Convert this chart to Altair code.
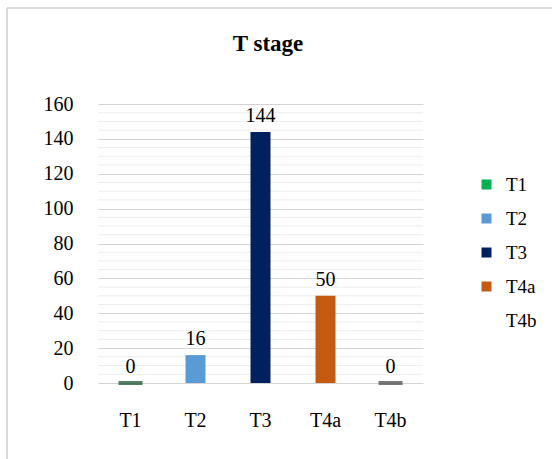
import altair as alt
import pandas as pd

stages = ["T1", "T2", "T3", "T4a", "T4b"]
counts = [0, 16, 144, 50, 0]
colors = ["#00b050", "#5b9bd5", "#002060", "#c55a11", "#ffffff"]
base_colors = ["#0b4a23", "#3d7fbf", "#001540", "#8a3c0a", "#404040"]
y_ticks = [0, 20, 40, 60, 80, 100, 120, 140, 160]
minor_grid = [5, 10, 15, 25, 30, 35, 45, 50, 55, 65, 70, 75, 85, 90, 95,
              105, 110, 115, 125, 130, 135, 145, 150, 155]
title_text = ["T stage"]

df = pd.DataFrame({"stage": stages, "count": counts, "base": base_colors})
grid_df = pd.DataFrame({"count": minor_grid})

FONT = "Liberation Serif"

x = alt.X("stage:N", sort=stages, scale=alt.Scale(paddingInner=0.69, paddingOuter=0.345),
          axis=alt.Axis(title=None, labelAngle=0, domain=False, ticks=False, labelPadding=27,
                        labelFontSize=20, labelFont=FONT, labelColor="#000000", grid=False))
y_axis = alt.Axis(title=None, values=y_ticks, domain=False, ticks=False, labelOverlap=False,
                  labelPadding=25, labelFontSize=20, labelFont=FONT, labelColor="#000000",
                  gridColor="#d4d4d4", gridWidth=1)
y = alt.Y("count:Q", scale=alt.Scale(domain=[0, 160]), axis=y_axis)

minor = alt.Chart(grid_df).mark_rule(color="#ededed", strokeWidth=1).encode(y=y)

bars = alt.Chart(df).mark_bar(size=20, opacity=1).encode(
    x=x, y=y,
    color=alt.Color("stage:N", sort=stages,
                    scale=alt.Scale(domain=stages, range=colors),
                    legend=alt.Legend(title=None, orient="none", legendX=379, legendY=71,
                                      symbolType="square", symbolSize=100, symbolStrokeWidth=0,
                                      symbolOpacity=1,
                                      labelFont=FONT, labelFontSize=19, labelColor="#000000",
                                      rowPadding=14, labelOffset=10)),
)

floor = alt.Chart(df).mark_tick(thickness=4, size=24).encode(
    x=x, y=y,
    color=alt.Color("base:N", scale=None),
).transform_filter("datum.count == 0")

labels = alt.Chart(df).mark_text(dy=-16, fontSize=20, font=FONT, color="#000000").encode(
    x=x, y=y,
    text="count:Q",
)

frame = pd.DataFrame({"k": [0], "title": title_text})
top_line = alt.Chart(frame).mark_rule(color="#d9d9d9", strokeWidth=2).encode(
    x=alt.value(-91), x2=alt.value(460), y=alt.value(-96))
left_line = alt.Chart(frame).mark_rule(color="#d9d9d9", strokeWidth=2).encode(
    x=alt.value(-91), y=alt.value(-96), y2=alt.value(360))
title = alt.Chart(frame).mark_text(font=FONT, fontSize=23, fontWeight="bold", color="#000000",
                                   baseline="middle", align="center").encode(
    x=alt.value(170), y=alt.value(-60), text="title:N")

chart = alt.layer(top_line, left_line, title, minor, bars, floor, labels).properties(
    width=325, height=279,
    autosize=alt.AutoSizeParams(type="none"),
    padding={"left": 98, "top": 104, "right": 129, "bottom": 76},
    background="#ffffff",
).configure_view(stroke=None).configure_axis(
    domain=False, ticks=False
).configure_axisX(grid=False).configure_legend(symbolOpacity=1)

chart.save("out.html", embed_options={"renderer": "svg", "actions": False})
